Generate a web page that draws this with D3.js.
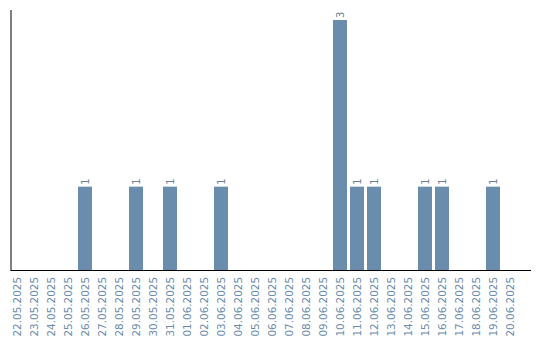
<!DOCTYPE html>
<html><head><meta charset="utf-8">
<script src="https://cdn.jsdelivr.net/npm/d3@7"></script>
<style>body{margin:0;background:#fff}svg{display:block}</style>
</head><body>
<svg id="c" width="540" height="340"></svg>
<script>
const dates = ["22.05.2025","23.05.2025","24.05.2025","25.05.2025","26.05.2025","27.05.2025","28.05.2025","29.05.2025","30.05.2025","31.05.2025","01.06.2025","02.06.2025","03.06.2025","04.06.2025","05.06.2025","06.06.2025","07.06.2025","08.06.2025","09.06.2025","10.06.2025","11.06.2025","12.06.2025","13.06.2025","14.06.2025","15.06.2025","16.06.2025","17.06.2025","18.06.2025","19.06.2025","20.06.2025"];
const counts = [0,0,0,0,1,0,0,1,0,1,0,0,1,0,0,0,0,0,0,3,1,1,0,0,1,1,0,0,1,0];

const svg = d3.select("#c");
const x = d3.scaleBand().domain(dates).range([8.5, 518.5]).paddingInner(3/17).paddingOuter(3/34);
const y = d3.scaleLinear().domain([0, 3]).range([270, 20]);
const data = dates.map((d,i)=>({d, v:counts[i]}));

svg.append("g").selectAll("rect").data(data.filter(e=>e.v>0)).join("rect")
  .attr("x", e=>x(e.d)).attr("width", x.bandwidth())
  .attr("y", e=>y(e.v)).attr("height", e=>y(0)-y(e.v))
  .attr("fill", "#6a8cad");

svg.append("g").selectAll("text").data(data.filter(e=>e.v>0)).join("text")
  .attr("transform", e=>`translate(${x(e.d)+x.bandwidth()/2+3.5},${y(e.v)-2}) rotate(-90)`)
  .attr("font-family","DejaVu Sans").attr("font-size",10).attr("fill","#6f7f8f")
  .text(e=>e.v);

const xAxis = svg.append("g").attr("transform","translate(0,270)")
  .call(d3.axisBottom(x).tickSize(0).tickPadding(0));
xAxis.select(".domain").remove();
xAxis.selectAll("text")
  .attr("font-family","DejaVu Sans").attr("font-size",10.4).attr("fill","#6a8cad")
  .attr("transform","rotate(-90)").attr("text-anchor","end")
  .attr("x",-7).attr("y",0).attr("dy","0.35em");

svg.append("line").attr("x1",11).attr("x2",11).attr("y1",10).attr("y2",270.5).attr("stroke","#000").attr("stroke-width",1);
svg.append("line").attr("x1",10.5).attr("x2",531).attr("y1",270.5).attr("y2",270.5).attr("stroke","#000").attr("stroke-width",1);
</script>
</body></html>
